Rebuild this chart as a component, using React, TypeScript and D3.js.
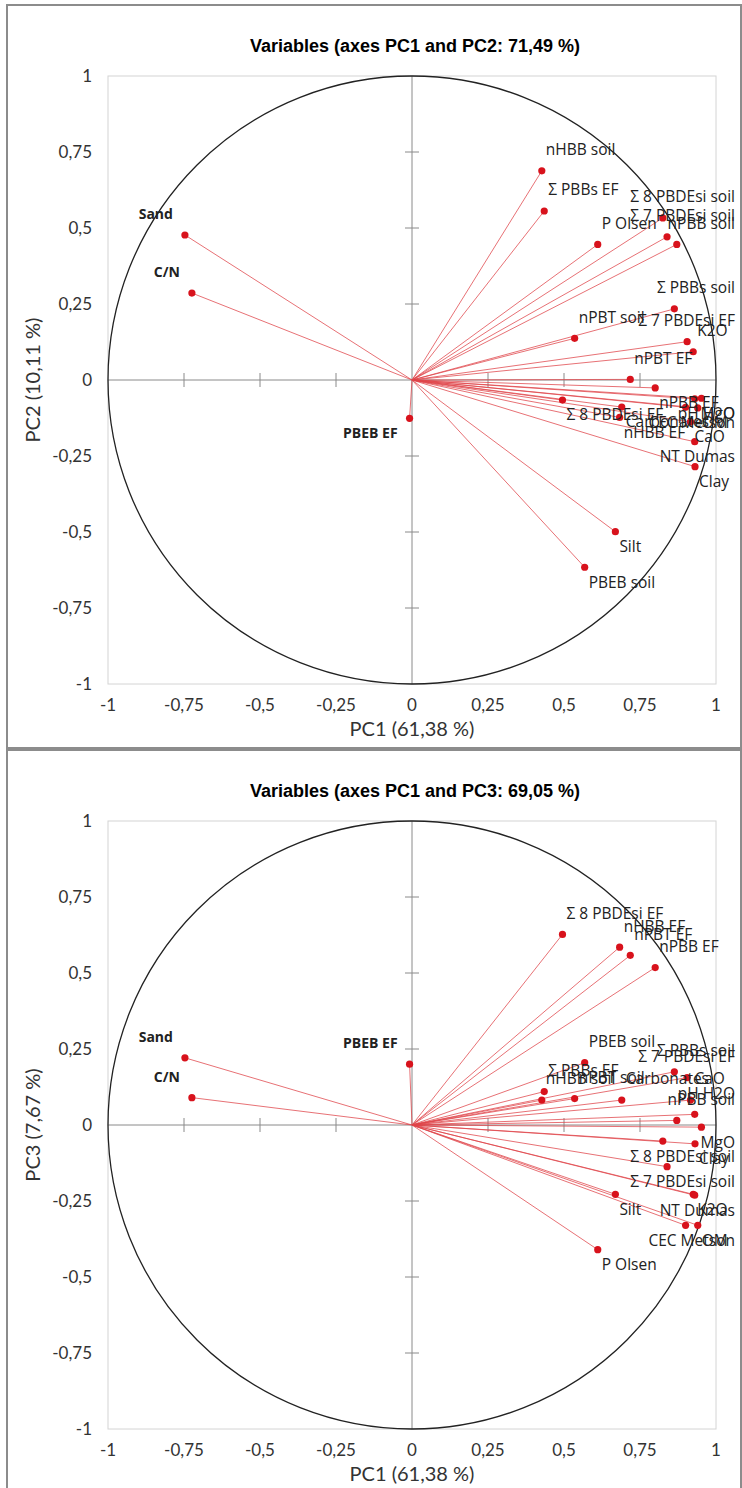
import React from "react";
import * as d3 from "d3";

const VARS = [
  "Sand", "C/N", "PBEB EF", "nHBB soil", "Σ PBBs EF", "P Olsen",
  "Σ 8 PBDEsi soil", "Σ 7 PBDEsi soil", "nPBB soil", "Σ PBBs soil", "nPBT soil",
  "Σ 7 PBDEsi EF", "K2O", "nPBT EF", "nPBB EF", "Σ 8 PBDEsi EF", "nHBB EF",
  "CaO", "NT Dumas", "Clay", "Silt", "PBEB soil", "MgO", "pH H2O",
  "Carbonates", "CEC Metson", "OM",
];
const PC1 = [
  -0.747, -0.724, -0.008, 0.427, 0.435, 0.611,
  0.825, 0.839, 0.871, 0.863, 0.535,
  0.905, 0.925, 0.718, 0.8, 0.495, 0.683,
  0.916, 0.93, 0.931, 0.669, 0.568, 0.952, 0.93,
  0.69, 0.9, 0.94,
];
const PC2 = [
  0.477, 0.286, -0.126, 0.688, 0.556, 0.446,
  0.533, 0.471, 0.446, 0.234, 0.137,
  0.126, 0.093, 0.002, -0.026, -0.066, -0.123,
  -0.138, -0.203, -0.285, -0.499, -0.616, -0.06, -0.062,
  -0.089, -0.09, -0.092,
];
const PC3 = [
  0.221, 0.09, 0.2, 0.082, 0.11, -0.41,
  -0.053, -0.137, 0.015, 0.175, 0.087,
  0.156, -0.228, 0.558, 0.518, 0.627, 0.585,
  0.082, -0.231, -0.062, -0.228, 0.205, -0.007, 0.035,
  0.082, -0.33, -0.33,
];

const TICKS = [-1, -0.75, -0.5, -0.25, 0, 0.25, 0.5, 0.75, 1];
const TICK_LABELS = ["-1", "-0,75", "-0,5", "-0,25", "0", "0,25", "0,5", "0,75", "1"];

const PANELS = [
  { title: "Variables (axes PC1 and PC2: 71,49 %)", yTitle: "PC2 (10,11 %)", ys: PC2, top: 0 },
  { title: "Variables (axes PC1 and PC3: 69,05 %)", yTitle: "PC3 (7,67 %)", ys: PC3, top: 745 },
];
const X_TITLE = "PC1 (61,38 %)";

const LABEL_SIZE = 15.5;
const BOLD_SIZE = 14;
let ctx: CanvasRenderingContext2D | null = null;
function textWidth(s: string, bold: boolean) {
  if (!ctx) ctx = document.createElement("canvas").getContext("2d");
  if (!ctx) return s.length * 8;
  ctx.font = (bold ? "bold " + BOLD_SIZE : LABEL_SIZE) + "px 'Open Sans'";
  return ctx.measureText(s).width;
}

function Panel({ p }: { p: typeof PANELS[number] }) {
  const left = 108, size = 608, top = p.top + 76;
  const x = d3.scaleLinear().domain([-1, 1]).range([left, left + size]);
  const y = d3.scaleLinear().domain([-1, 1]).range([top + size, top]);
  const x0 = x(0), y0 = y(0);
  const r = size / 2;
  const rightLimit = 735;
  return (
    <g>
      <rect x={7} y={p.top + 5} width={734} height={743} fill="#fff" stroke="#8c8c8c" strokeWidth={2} />
      <text x={415} y={p.top + 52} textAnchor="middle" fontFamily="'Liberation Sans', Arial" fontWeight="bold" fontSize={18} fill="#000">{p.title}</text>
      <rect x={left} y={top} width={size} height={size} fill="none" stroke="#d4d4d4" strokeWidth={1} />
      <line x1={left} x2={left + size} y1={y0} y2={y0} stroke="#8a8a8a" strokeWidth={1} />
      <line x1={x0} x2={x0} y1={top} y2={top + size} stroke="#8a8a8a" strokeWidth={1} />
      {TICKS.map((t, i) => (
        <g key={"t" + i}>
          {t !== 0 && Math.abs(t) !== 1 ? (
            <>
              <line x1={x0 - 7} x2={x0 + 7} y1={y(t)} y2={y(t)} stroke="#8a8a8a" strokeWidth={1} />
              <line x1={x(t)} x2={x(t)} y1={y0 - 7} y2={y0 + 7} stroke="#8a8a8a" strokeWidth={1} />
            </>
          ) : null}
          <text x={92} y={y(t)} dy="0.35em" textAnchor="end" fontFamily="Lato" fontSize={17} fill="#333">{TICK_LABELS[i]}</text>
          <text x={x(t)} y={top + size + 27} textAnchor="middle" fontFamily="Lato" fontSize={17} fill="#333">{TICK_LABELS[i]}</text>
        </g>
      ))}
      <text x={x0} y={top + size + 52} textAnchor="middle" fontFamily="Lato" fontSize={20} fill="#333">{X_TITLE}</text>
      <text transform={`translate(40,${y0}) rotate(-90)`} textAnchor="middle" fontFamily="Lato" fontSize={20} fill="#333">{p.yTitle}</text>
      <circle cx={x0} cy={y0} r={r} fill="none" stroke="#222" strokeWidth={1.3} />
      {VARS.map((v, i) => (
        <line key={"l" + i} x1={x0} y1={y0} x2={x(PC1[i])} y2={y(p.ys[i])} stroke="#e0444a" strokeWidth={0.9} strokeOpacity={0.85} />
      ))}
      {VARS.map((v, i) => (
        <circle key={"c" + i} cx={x(PC1[i])} cy={y(p.ys[i])} r={3.6} fill="#d8121c" />
      ))}
      {VARS.map((v, i) => {
        const px = x(PC1[i]), py = y(p.ys[i]);
        const bold = PC1[i] < 0;
        const w = textWidth(v, bold);
        let lx = PC1[i] >= 0 ? px + 4 : px - 12 - w;
        if (lx + w > rightLimit) lx = rightLimit - w;
        const ly = p.ys[i] >= 0 ? py - 21 : py + 15;
        return (
          <text key={"t" + i} x={lx} y={ly} dy="0.35em" fontFamily="'Open Sans'" fontSize={bold ? BOLD_SIZE : LABEL_SIZE} fontWeight={bold ? "bold" : "normal"} fill="#222">{v}</text>
        );
      })}
    </g>
  );
}

export default function App() {
  return (
    <svg width={742} height={1488} style={{ position: "absolute", left: 0, top: 0, background: "#fff" }}>
      {PANELS.map((p, i) => <Panel key={i} p={p} />)}
    </svg>
  );
}
